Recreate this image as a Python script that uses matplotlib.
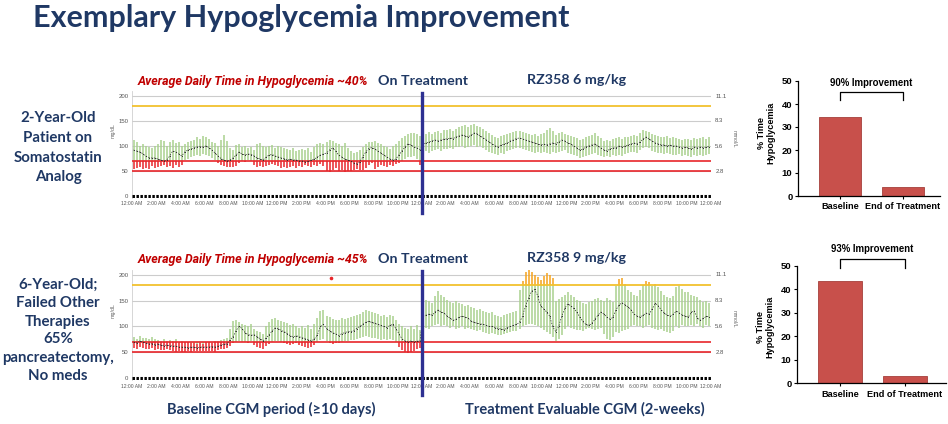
import numpy as np
import matplotlib
matplotlib.use("Agg")
import matplotlib.pyplot as plt

# ---- data -------------------------------------------------------------
# CGM profiles, 15-minute bins over 48 h (baseline day, then treatment day)
top_med = [
    92, 90, 88, 85, 80, 77, 76, 76, 74, 72, 70, 72,
    80, 90, 88, 84, 80, 88, 92, 94, 96, 98, 99, 98,
    100, 97, 92, 86, 80, 75, 72, 70, 72, 76, 82, 88,
    84, 82, 84, 83, 80, 76, 74, 72, 78, 82, 83, 80,
    78, 76, 75, 72, 74, 72, 72, 70, 70, 68, 70, 72,
    74, 78, 82, 84, 86, 92, 96, 90, 82, 78, 74, 72,
    70, 66, 64, 68, 78, 88, 95, 97, 94, 90, 86, 82,
    78, 74, 72, 74, 82, 90, 98, 104, 102, 98, 96, 93,
    104, 106, 108, 110, 112, 110, 112, 114, 114, 116, 115, 118,
    120, 122, 120, 118, 122, 126, 124, 120, 116, 112, 108, 104,
    100, 98, 102, 104, 106, 110, 112, 115, 116, 114, 112, 110,
    108, 106, 104, 102, 104, 102, 104, 106, 104, 108, 112, 110,
    106, 104, 100, 96, 92, 94, 98, 100, 102, 104, 100, 96,
    92, 90, 94, 96, 96, 100, 98, 100, 102, 104, 106, 104,
    108, 114, 118, 114, 110, 106, 104, 102, 102, 100, 102, 100,
    100, 98, 96, 98, 96, 94, 98, 96, 98, 96, 98, 99,
]
top_lo = [
    55, 56, 58, 55, 57, 55, 60, 56, 58, 60, 62, 58,
    60, 56, 62, 58, 62, 72, 75, 78, 80, 82, 80, 84,
    82, 80, 76, 72, 66, 62, 60, 58, 58, 58, 60, 66,
    70, 68, 72, 70, 62, 58, 60, 58, 60, 62, 65, 62,
    60, 56, 58, 56, 58, 60, 56, 60, 58, 62, 60, 58,
    62, 60, 64, 60, 50, 48, 52, 56, 50, 52, 48, 50,
    50, 52, 54, 52, 52, 56, 62, 66, 54, 58, 62, 60,
    58, 62, 60, 64, 66, 70, 74, 78, 78, 80, 74, 62,
    88, 90, 86, 90, 92, 94, 90, 95, 95, 96, 94, 98,
    98, 100, 96, 98, 100, 102, 98, 100, 96, 92, 88, 86,
    84, 82, 86, 85, 90, 92, 94, 96, 96, 94, 92, 90,
    88, 86, 88, 86, 88, 86, 84, 88, 86, 88, 90, 92,
    86, 84, 82, 80, 76, 78, 80, 82, 84, 86, 82, 80,
    78, 80, 78, 82, 80, 82, 80, 84, 86, 88, 88, 86,
    92, 96, 98, 96, 90, 88, 86, 86, 84, 86, 84, 82,
    82, 84, 80, 82, 80, 78, 82, 80, 82, 80, 82, 84,
]
top_hi = [
    112, 108, 100, 104, 100, 98, 96, 100, 105, 112, 110, 100,
    108, 112, 106, 108, 100, 105, 108, 110, 112, 118, 115, 120,
    118, 114, 108, 106, 100, 112, 122, 110, 96, 92, 102, 104,
    98, 100, 96, 98, 92, 104, 106, 100, 98, 100, 102, 96,
    100, 98, 96, 94, 92, 96, 90, 92, 94, 92, 96, 88,
    98, 104, 106, 104, 108, 112, 110, 106, 104, 100, 106, 96,
    90, 86, 88, 92, 98, 104, 108, 108, 110, 106, 104, 100,
    98, 94, 100, 104, 110, 116, 120, 125, 126, 127, 124, 120,
    122, 125, 128, 124, 128, 130, 126, 132, 132, 135, 130, 134,
    138, 140, 142, 138, 142, 144, 140, 138, 134, 130, 126, 122,
    118, 116, 120, 122, 124, 126, 128, 130, 130, 128, 126, 124,
    122, 125, 120, 124, 126, 132, 136, 130, 122, 126, 128, 124,
    122, 120, 118, 116, 112, 114, 118, 120, 122, 126, 120, 116,
    110, 112, 110, 114, 116, 118, 114, 118, 118, 120, 122, 120,
    126, 132, 130, 128, 124, 122, 120, 118, 118, 120, 116, 118,
    116, 114, 112, 115, 114, 112, 116, 114, 116, 118, 114, 118,
]
bot_med = [
    70, 68, 72, 70, 68, 66, 67, 65, 66, 64, 63, 64,
    63, 62, 62, 60, 60, 60, 59, 60, 60, 59, 60, 60,
    60, 60, 61, 60, 62, 64, 66, 66, 74, 80, 92, 100,
    96, 88, 84, 83, 84, 80, 76, 72, 78, 84, 92, 97,
    96, 92, 90, 86, 82, 80, 82, 80, 78, 76, 74, 72,
    76, 84, 100, 104, 96, 92, 88, 86, 82, 86, 88, 90,
    90, 92, 96, 100, 104, 108, 110, 108, 106, 104, 102, 100,
    98, 102, 104, 96, 86, 76, 72, 70, 72, 70, 72, 71,
    120, 122, 124, 122, 128, 132, 128, 126, 120, 116, 112, 114,
    118, 120, 118, 116, 110, 108, 106, 105, 104, 102, 100, 100,
    98, 96, 95, 94, 98, 100, 102, 104, 108, 120, 140, 155,
    168, 172, 160, 140, 134, 128, 120, 100, 90, 100, 120, 135,
    144, 140, 135, 128, 118, 110, 104, 102, 106, 114, 122, 128,
    124, 118, 114, 118, 132, 142, 146, 142, 138, 132, 124, 120,
    118, 122, 126, 124, 134, 145, 140, 132, 126, 122, 120, 124,
    130, 126, 122, 120, 118, 128, 130, 116, 112, 116, 120, 118,
]
bot_lo = [
    58, 56, 60, 58, 57, 56, 58, 55, 56, 54, 55, 56,
    54, 52, 50, 52, 50, 50, 52, 51, 52, 53, 52, 53,
    52, 53, 52, 50, 54, 56, 56, 58, 62, 68, 70, 72,
    70, 70, 68, 72, 64, 60, 58, 56, 62, 66, 70, 72,
    72, 70, 68, 66, 64, 66, 68, 64, 62, 60, 58, 60,
    64, 70, 74, 76, 72, 68, 66, 68, 68, 70, 72, 72,
    74, 74, 76, 78, 80, 82, 80, 78, 78, 76, 74, 76,
    74, 76, 74, 70, 60, 54, 50, 48, 50, 52, 56, 58,
    100, 98, 96, 100, 102, 104, 100, 102, 100, 98, 100, 96,
    98, 100, 96, 98, 96, 94, 92, 94, 90, 88, 86, 88,
    86, 84, 84, 86, 88, 90, 92, 92, 96, 100, 102, 104,
    104, 102, 100, 98, 94, 90, 86, 80, 72, 76, 84, 96,
    100, 98, 96, 94, 94, 92, 96, 98, 96, 94, 96, 98,
    86, 76, 74, 80, 90, 88, 92, 94, 96, 100, 102, 100,
    100, 98, 100, 102, 98, 96, 94, 96, 92, 90, 88, 92,
    100, 98, 102, 100, 100, 102, 100, 104, 100, 98, 102, 100,
]
bot_hi = [
    80, 76, 82, 78, 78, 76, 80, 75, 74, 72, 76, 72,
    74, 72, 75, 70, 72, 70, 70, 68, 68, 66, 68, 67,
    69, 70, 68, 72, 72, 74, 76, 78, 96, 110, 112, 108,
    104, 102, 100, 104, 96, 92, 90, 86, 100, 108, 114, 116,
    112, 110, 108, 106, 102, 104, 100, 98, 100, 98, 102, 96,
    104, 116, 130, 132, 120, 118, 114, 112, 112, 116, 114, 116,
    118, 120, 122, 124, 128, 132, 130, 128, 126, 124, 120, 122,
    118, 122, 120, 112, 104, 100, 98, 96, 100, 96, 102, 94,
    148, 152, 150, 146, 160, 168, 162, 158, 152, 148, 146, 150,
    146, 144, 140, 142, 138, 136, 132, 134, 130, 128, 126, 128,
    122, 120, 118, 122, 124, 126, 128, 130, 170, 188, 205, 210,
    205, 200, 196, 190, 198, 203, 200, 194, 150, 154, 158, 162,
    166, 162, 158, 152, 150, 146, 144, 148, 150, 154, 156, 152,
    150, 156, 152, 148, 178, 192, 195, 182, 170, 166, 162, 160,
    170, 180, 188, 186, 178, 182, 176, 168, 162, 158, 156, 160,
    176, 178, 172, 166, 166, 162, 160, 158, 152, 148, 150, 146,
]
bot_outlier = (16.5, 194)

hours = [0, 2, 4, 6, 8, 10, 12, 14, 16, 18, 20, 22] * 2 + [0]
tick_labels = []
for h in hours:
    hh = h % 12 if h % 12 else 12
    tick_labels.append(f"{hh}:00 {'AM' if h < 12 else 'PM'}")
mmol_vals = [200, 150, 100, 50]
mmol_labels = ["11.1", "8.3", "5.6", "2.8"]

bar_cats = ["Baseline", "End of Treatment"]
top_bars = [34.3, 3.8]
bot_bars = [43.3, 3.0]

# ---- style ------------------------------------------------------------
NAVY = "#1f3864"
LINE_BLUE = "#2e3192"
RED_TXT = "#c00000"
GREEN = "#a9d18e"
RED = "#e8262b"
ORANGE = "#f5a21b"
YELLOW = "#f2c12e"
BAR = "#c8504b"
plt.rcParams["font.family"] = ["Lato", "DejaVu Sans"]

W, H = 948, 424
fig = plt.figure(figsize=(W / 100, H / 100), dpi=100)


def px_axes(x0, y0, x1, y1):
    return fig.add_axes([x0 / W, 1 - y1 / H, (x1 - x0) / W, (y1 - y0) / H])


def ftext(x, y, s, **kw):
    fig.text(x / W, 1 - y / H, s, **kw)


def draw_cgm(ax, med, lo, hi, vline_ext):
    med, lo, hi = np.array(med), np.array(lo), np.array(hi)
    x = np.arange(len(med)) * 0.25 + 0.125
    for v in [50, 100, 150, 200]:
        ax.axhline(v, color="#cccccc", lw=0.8, zorder=0)
    ax.vlines(x, np.maximum(lo, 70), np.minimum(hi, 180), color=GREEN, lw=1.1, zorder=1)
    m = lo < 70
    ax.vlines(x[m], lo[m], np.minimum(hi[m], 70), color=RED, lw=1.1, zorder=1)
    m = hi > 180
    ax.vlines(x[m], np.maximum(lo[m], 180), hi[m], color=ORANGE, lw=1.1, zorder=1)
    ax.axhline(180, color=YELLOW, lw=1.3, zorder=3)
    ax.axhline(70, color=RED, lw=1.2, zorder=3)
    ax.axhline(50, color=RED, lw=1.2, zorder=3)
    ax.plot(x, med, color="#2f2f2f", ls=(0, (2, 2)), lw=0.5, marker=".", ms=1.4,
            mew=0, zorder=4)
    ax.plot([0, 48], [0, 0], color="black", ls=(0, (0.8, 0.5)), lw=2.2, zorder=4,
            solid_capstyle="butt")
    ax.axvline(24, ymin=vline_ext[0], ymax=vline_ext[1], color=LINE_BLUE, lw=2.4,
               clip_on=False, zorder=5)
    ax.set_xlim(0, 48)
    ax.set_ylim(-4, 210)
    ax.set_xticks(range(0, 49, 2))
    ax.set_xticklabels(tick_labels, fontsize=3.6, color="#555555", family="Liberation Sans")
    ax.set_yticks([0, 50, 100, 150, 200])
    ax.set_yticklabels(["0", "50", "100", "150", "200"], fontsize=4.3, color="#555555",
                       family="Liberation Sans")
    ax.tick_params(length=0, pad=2.5)
    for s in ["top", "right", "bottom"]:
        ax.spines[s].set_visible(False)
    ax.spines["left"].set_color("#d0d0d0")
    ax.spines["left"].set_linewidth(0.6)
    ax.patch.set_alpha(0)
    for v, s in zip(mmol_vals, mmol_labels):
        ax.text(48.35, v, s, fontsize=4.3, color="#555555", va="center", ha="left",
                family="Liberation Sans", clip_on=False)
    ax.text(-1.6, 130, "mg/dL", fontsize=3.8, color="#666666", rotation=90, va="center",
            ha="center", family="Liberation Sans", clip_on=False)
    ax.text(49.9, 115, "mmol/L", fontsize=3.8, color="#666666", rotation=270, va="center",
            ha="center", family="Liberation Sans", clip_on=False)


def draw_bars(ax, vals, bracket, label_pos, txt, txt_y):
    ax.bar([0, 1], vals, width=0.67, color=BAR, edgecolor="#a5403b", lw=0.6)
    ax.set_ylim(0, 50)
    ax.set_yticks(range(0, 51, 10))
    ax.set_xticks([0, 1])
    ax.set_xticklabels(bar_cats, fontsize=6.6, weight="bold", family="Liberation Sans")
    ax.tick_params(axis="y", labelsize=6.8, length=2.5, width=0.8, pad=1.5)
    ax.tick_params(axis="x", length=2.5, width=0.8, pad=2)
    for lab in ax.get_yticklabels():
        lab.set_fontweight("bold")
        lab.set_family("Liberation Sans")
    for s in ["top", "right"]:
        ax.spines[s].set_visible(False)
    for s in ["left", "bottom"]:
        ax.spines[s].set_linewidth(0.9)
    ax.plot([0, 0, 1, 1], bracket, color="black", lw=0.9, clip_on=False)
    ax.text(0.5, txt_y, txt, ha="center", va="center", fontsize=6.9, weight="bold",
            family="Liberation Sans", clip_on=False)
    ax.set_ylabel("% Time\nHypoglycemia", fontsize=6.6, weight="bold", family="Liberation Sans",
                  linespacing=1.05)
    ax.yaxis.set_label_coords(*label_pos)


# ---- CGM panels -------------------------------------------------------
ax1 = px_axes(132, 91, 711, 198)
draw_cgm(ax1, top_med, top_lo, top_hi, (-0.14, 0.98))

ax2 = px_axes(132, 269.8, 711, 380.1)
draw_cgm(ax2, bot_med, bot_lo, bot_hi, (-0.136, 0.99))
ax2.plot([bot_outlier[0]], [bot_outlier[1]], "o", color=RED, ms=1.6, zorder=4)

# ---- bar charts -------------------------------------------------------
b1 = px_axes(798, 81, 940, 196)
b1.set_xlim(-0.667, 1.587)
draw_bars(b1, top_bars, [41.7, 45.2, 45.2, 41.7], (-0.16, 0.55), "90% Improvement", 49.1)

b2 = px_axes(797, 265.7, 946, 383.3)
b2.set_xlim(-0.66, 1.63)
draw_bars(b2, bot_bars, [49, 52.8, 52.8, 49], (-0.15, 0.48), "93% Improvement", 57)

# ---- text -------------------------------------------------------------
ftext(33, 27, "Exemplary Hypoglycemia Improvement", fontsize=22, weight="bold",
      color=NAVY, va="baseline")

for y, t1, t2, t3 in [(82, "~40%", "On Treatment", "RZ358 6 mg/kg"),
                      (260, "~45%", "On Treatment", "RZ358 9 mg/kg")]:
    ftext(138, y, "Average Daily Time in Hypoglycemia " + t1, fontsize=8.9, weight="bold",
          style="italic", color=RED_TXT, va="center", family="Roboto")
    ftext(378, y - 1, t2, fontsize=10.3, weight="bold", color=NAVY, va="center")
    ftext(527, y - 2, t3, fontsize=10.3, weight="bold", color=NAVY, va="center")

left_top = ["2-Year-Old", "Patient on", "Somatostatin", "Analog"]
for y, s in zip([118, 138, 158, 177], left_top):
    ftext(58, y, s, fontsize=10.8, weight="bold", color=NAVY, ha="center", va="center")

left_bot = ["6-Year-Old;", "Failed Other", "Therapies", "65%", "pancreatectomy,", "No meds"]
for y, s in zip([285, 303, 322, 339, 358, 376], left_bot):
    ftext(58, y, s, fontsize=10.8, weight="bold", color=NAVY, ha="center", va="center")

ftext(271, 414, "Baseline CGM period (≥10 days)", fontsize=10.5, weight="bold", color=NAVY,
      ha="center", va="baseline")
ftext(585, 414, "Treatment Evaluable CGM (2-weeks)", fontsize=10.5, weight="bold", color=NAVY,
      ha="center", va="baseline")

fig.savefig("out.png", dpi=100)
